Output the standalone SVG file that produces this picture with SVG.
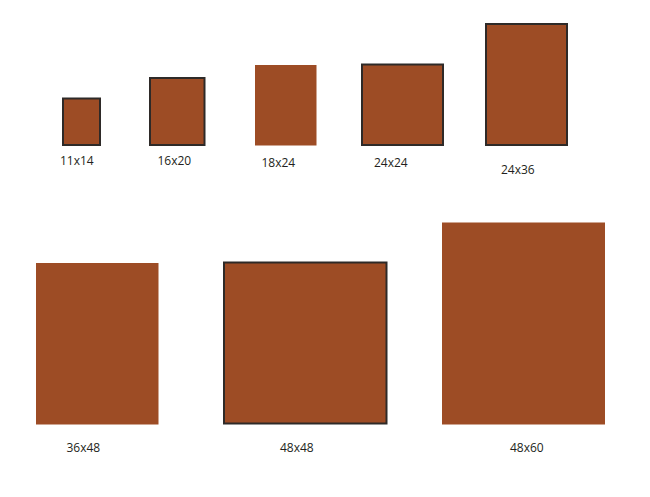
<svg xmlns="http://www.w3.org/2000/svg" width="650" height="497" viewBox="0 0 650 497">
<style>
.p{fill:#9d4c25}
.s{stroke:#2e2a28;stroke-width:2}
.t{font-family:"Open Sans","Noto Sans","Liberation Sans",sans-serif;font-size:12px;fill:#231f20}
</style>
<rect width="650" height="497" fill="#fff"/>
<g id="n11x14"><rect class="p s" x="63" y="98.5" width="37" height="46.5"/><text class="t" x="60" y="165">11x14</text></g>
<g id="n16x20"><rect class="p s" x="150" y="78" width="54.5" height="67"/><text class="t" x="157.5" y="165">16x20</text></g>
<g id="n18x24"><rect class="p" x="255" y="65" width="61.5" height="80.5"/><text class="t" x="261.5" y="166.5">18x24</text></g>
<g id="n24x24"><rect class="p s" x="362" y="64.5" width="81" height="80.5"/><text class="t" x="374" y="166.5">24x24</text></g>
<g id="n24x36"><rect class="p s" x="486" y="24" width="81" height="121"/><text class="t" x="501" y="174">24x36</text></g>
<g id="n36x48"><rect class="p" x="36" y="263" width="122.5" height="161.5"/><text class="t" x="66.5" y="451.5">36x48</text></g>
<g id="n48x48"><rect class="p s" x="224" y="262.5" width="162.5" height="161"/><text class="t" x="280" y="451.5">48x48</text></g>
<g id="n48x60"><rect class="p" x="442" y="222.5" width="163" height="202"/><text class="t" x="510" y="452">48x60</text></g>
</svg>
